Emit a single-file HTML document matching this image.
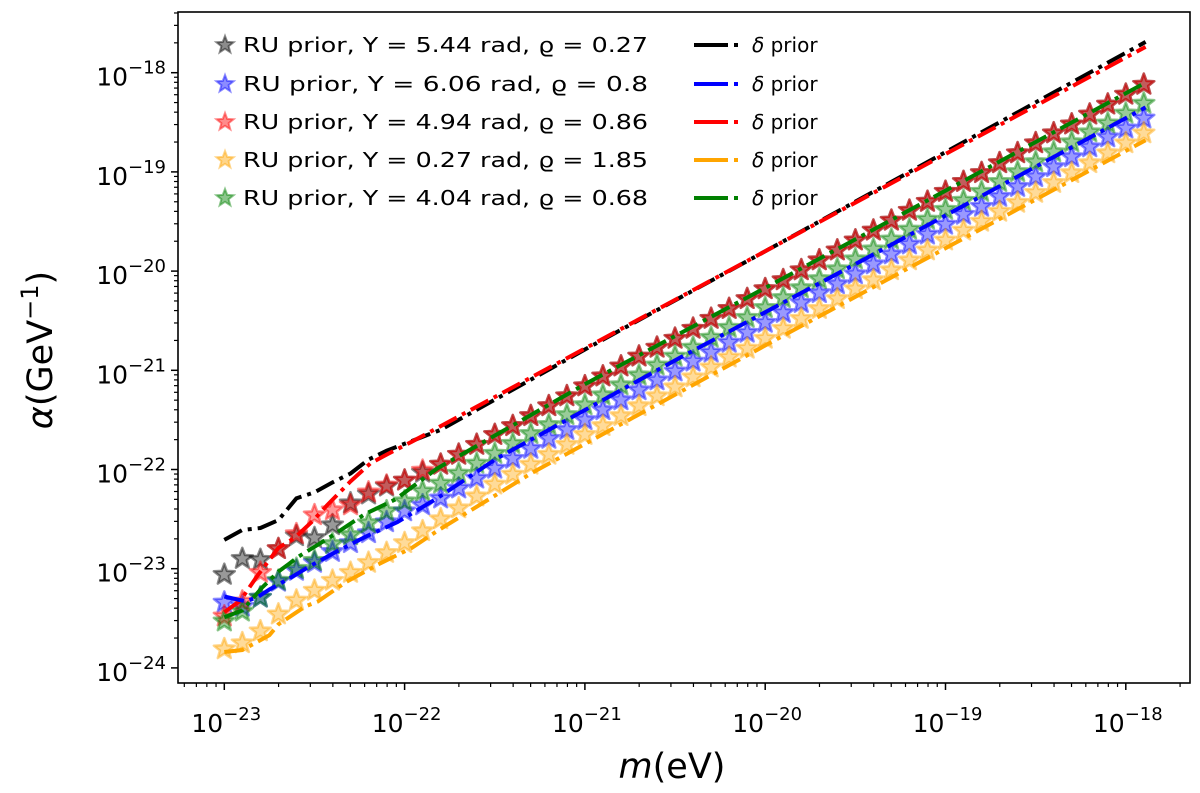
<!DOCTYPE html>
<html><head><meta charset="utf-8">
<style>
html,body{margin:0;padding:0;background:#fff;}
svg{display:block;font-family:"DejaVu Sans","Liberation Sans",sans-serif;}
</style></head>
<body>
<svg id="chart" width="1200" height="793" viewBox="0 0 1200 793" xmlns="http://www.w3.org/2000/svg">
<rect x="0" y="0" width="1200" height="793" fill="#fff"/>
<g id="stars"></g>
<g id="lines"></g>
<g id="axes"></g>
<g id="legend"></g>
<text x="672" y="778" font-size="35" text-anchor="middle"><tspan font-style="italic">m</tspan>(eV)</text>
<text transform="translate(52,350) rotate(-90)" font-size="35" text-anchor="middle"><tspan font-style="italic">α</tspan>(GeV<tspan font-size="24" dy="-14">−1</tspan><tspan dy="14">)</tspan></text>
</svg>
<script>
// log10 of mass grid (eV)
const mExp = [-23.0,-22.9,-22.8,-22.7,-22.6,-22.5,-22.4,-22.3,-22.2,-22.1,-22.0,-21.9,-21.8,-21.7,-21.6,-21.5,-21.4,-21.3,-21.2,-21.1,-21.0,-20.9,-20.8,-20.7,-20.6,-20.5,-20.4,-20.3,-20.2,-20.1,-20.0,-19.9,-19.8,-19.7,-19.6,-19.5,-19.4,-19.3,-19.2,-19.1,-19.0,-18.9,-18.8,-18.7,-18.6,-18.5,-18.4,-18.3,-18.2,-18.1,-18.0,-17.9];
// log10 alpha for star series
const starBlack = [-23.06,-22.90,-22.91,-22.80,-22.67,-22.69,-22.56,-22.34,-22.25,-22.17,-22.11,-22.03,-21.95,-21.85,-21.75,-21.65,-21.56,-21.46,-21.36,-21.26,-21.16,-21.06,-20.96,-20.86,-20.77,-20.68,-20.58,-20.48,-20.38,-20.28,-20.18,-20.09,-19.99,-19.89,-19.79,-19.69,-19.59,-19.49,-19.39,-19.30,-19.20,-19.10,-19.01,-18.91,-18.81,-18.71,-18.61,-18.52,-18.42,-18.32,-18.22,-18.12];
const starBlue = [-23.34,-23.38,-23.29,-23.13,-23.02,-22.94,-22.83,-22.74,-22.64,-22.53,-22.42,-22.36,-22.29,-22.19,-22.09,-21.99,-21.89,-21.79,-21.69,-21.60,-21.50,-21.40,-21.30,-21.20,-21.10,-21.01,-20.91,-20.82,-20.72,-20.62,-20.52,-20.42,-20.32,-20.22,-20.13,-20.03,-19.93,-19.83,-19.73,-19.63,-19.53,-19.43,-19.35,-19.25,-19.15,-19.05,-18.95,-18.85,-18.75,-18.65,-18.56,-18.46];
const starRed = [-23.48,-23.33,-23.04,-22.80,-22.65,-22.46,-22.41,-22.36,-22.23,-22.16,-22.11,-22.01,-21.95,-21.85,-21.75,-21.65,-21.56,-21.46,-21.36,-21.26,-21.16,-21.06,-20.96,-20.86,-20.77,-20.68,-20.58,-20.48,-20.38,-20.28,-20.18,-20.09,-19.99,-19.89,-19.79,-19.69,-19.59,-19.49,-19.39,-19.30,-19.20,-19.10,-19.01,-18.91,-18.81,-18.71,-18.61,-18.52,-18.42,-18.32,-18.22,-18.12];
const starOrange = [-23.81,-23.75,-23.63,-23.46,-23.32,-23.22,-23.12,-23.04,-22.94,-22.84,-22.74,-22.62,-22.50,-22.39,-22.27,-22.15,-22.05,-21.95,-21.85,-21.75,-21.65,-21.56,-21.46,-21.36,-21.26,-21.17,-21.07,-20.97,-20.87,-20.78,-20.68,-20.58,-20.48,-20.38,-20.28,-20.18,-20.09,-19.99,-19.89,-19.79,-19.69,-19.59,-19.50,-19.40,-19.31,-19.21,-19.11,-19.01,-18.91,-18.81,-18.71,-18.61];
const starGreen = [-23.53,-23.43,-23.29,-23.12,-23.00,-22.92,-22.75,-22.66,-22.54,-22.42,-22.32,-22.22,-22.14,-22.04,-21.94,-21.84,-21.74,-21.64,-21.55,-21.45,-21.35,-21.25,-21.15,-21.05,-20.95,-20.86,-20.77,-20.67,-20.57,-20.47,-20.37,-20.27,-20.17,-20.08,-19.98,-19.88,-19.78,-19.68,-19.58,-19.48,-19.38,-19.29,-19.20,-19.10,-19.00,-18.90,-18.80,-18.70,-18.60,-18.51,-18.41,-18.31];
// delta prior lines (log10 m, log10 alpha)
const lineBlackM = [-23.00,-22.90,-22.80,-22.70,-22.60,-22.50,-22.40,-22.30,-22.20,-22.10,-21.80,-20.99,-19.98,-18.97,-17.89];
const lineBlackA = [-22.71,-22.61,-22.59,-22.51,-22.29,-22.23,-22.13,-22.04,-21.90,-21.81,-21.60,-20.78,-19.78,-18.77,-17.69];
const lineRedM = [-23.00,-22.91,-22.82,-22.70,-22.61,-22.51,-22.43,-22.30,-22.19,-22.10,-21.96,-20.99,-19.98,-18.97,-17.89];
const lineRedA = [-23.44,-23.32,-23.08,-22.79,-22.69,-22.52,-22.36,-22.12,-21.94,-21.85,-21.72,-20.77,-19.78,-18.79,-17.74];
const lineGreenM = [-23.00,-22.90,-22.79,-22.70,-22.64,-22.59,-22.42,-22.22,-22.05,-21.82,-20.99,-19.98,-18.97,-17.89];
const lineGreenA = [-23.49,-23.42,-23.19,-23.03,-22.95,-22.88,-22.69,-22.45,-22.30,-21.99,-21.13,-20.15,-19.16,-18.10];
const lineBlueM = [-23.00,-22.88,-22.81,-22.75,-22.64,-22.53,-22.38,-22.22,-22.04,-21.82,-21.49,-20.48,-19.47,-17.89];
const lineBlueA = [-23.28,-23.33,-23.28,-23.21,-23.10,-22.98,-22.83,-22.68,-22.53,-22.29,-21.89,-20.88,-19.90,-18.35];
const lineOrangeM = [-23.00,-22.90,-22.85,-22.75,-22.70,-22.55,-22.48,-22.33,-22.15,-21.96,-21.82,-21.29,-19.98,-18.97,-17.89];
const lineOrangeA = [-23.84,-23.82,-23.77,-23.67,-23.56,-23.38,-23.33,-23.14,-22.96,-22.79,-22.62,-22.03,-20.73,-19.74,-18.68];
const xTicks = [-23,-22,-21,-20,-19,-18];
const yTicks = [-24,-23,-22,-21,-20,-19,-18];
const starLabels = ["RU prior, Y =  5.44 rad, ϱ = 0.27","RU prior, Y =  6.06 rad, ϱ = 0.8","RU prior, Y =  4.94 rad, ϱ = 0.86","RU prior, Y =  0.27 rad, ϱ = 1.85","RU prior, Y =  4.04 rad, ϱ = 0.68"];

const NS = "http://www.w3.org/2000/svg";
const PL = 178, PR = 1190, PT = 12, PB = 683;
function X(l){ return 224.3 + (l + 23) * 180.3; }
function Y(l){ return 72.7 + (-18 - l) * 99.2; }
function mk(tag, attrs, parent){ const e = document.createElementNS(NS, tag); for (const k in attrs) e.setAttribute(k, attrs[k]); parent.appendChild(e); return e; }
function starPts(cx, cy, R){ const r = R*0.42; let p = []; for (let k=0;k<10;k++){ const a = -Math.PI/2 + k*Math.PI/5; const rr = k%2 ? r : R; p.push((cx+rr*Math.cos(a)).toFixed(1)+","+(cy+rr*Math.sin(a)).toFixed(1)); } return p.join(" "); }

const colors = ["#000000","#0000ff","#ff0000","#ffa500","#008000"];
const starSeries = [starBlack, starBlue, starRed, starOrange, starGreen];
const starNames = ["black","blue","red","orange","green"];
const gS = document.getElementById("stars");
starSeries.forEach((s, si) => {
  const g = mk("g", {}, gS);
  
  
  s.forEach((v, i) => {
    const p = mk("polygon", {points: starPts(X(mExp[i]), Y(v), 11), fill: colors[si], "fill-opacity": 0.4, stroke: colors[si], "stroke-opacity": 0.45, "stroke-width": 2.5, "stroke-linejoin": "round"}, g);
    
    
  });
});

const lineSets = [[lineBlackM,lineBlackA],[lineBlueM,lineBlueA],[lineRedM,lineRedA],[lineOrangeM,lineOrangeA],[lineGreenM,lineGreenA]];
const gL = document.getElementById("lines");
const order = [0,2,4,1,3];
order.forEach(li => {
  const [ms, as] = lineSets[li];
  const d = ms.map((m, i) => (i ? "L" : "M") + X(m).toFixed(1) + "," + Y(as[i]).toFixed(1)).join(" ");
  const p = mk("path", {d: d, fill: "none", stroke: colors[li], "stroke-width": 4, "stroke-dasharray": "20,6,4,6"}, gL);
  
  
});

const gA = document.getElementById("axes");
const frame = mk("rect", {x: PL, y: PT, width: PR-PL, height: PB-PT, fill: "none", stroke: "#000", "stroke-width": 1.6}, gA);


for (let d = -24; d <= -17; d++) {
  for (let k = 2; k <= 9; k++) {
    const l = d + Math.log10(k);
    const x = X(l);
    if (x > PL && x < PR) mk("line", {x1: x, x2: x, y1: PB, y2: PB+4, stroke: "#000", "stroke-width": 1.2}, gA);
    const y = Y(l);
    if (y > PT && y < PB) mk("line", {x1: PL-4, x2: PL, y1: y, y2: y, stroke: "#000", "stroke-width": 1.2}, gA);
  }
}
xTicks.forEach(t => {
  const x = X(t);
  mk("line", {x1: x, x2: x, y1: PB, y2: PB+7, stroke: "#000", "stroke-width": 1.5}, gA);
  const tx = mk("text", {x: x+2, y: 732, "font-size": 25, "text-anchor": "middle"}, gA);
  
  
  tx.innerHTML = '10<tspan font-size="18" dy="-12">−' + (-t) + '</tspan>';
});
yTicks.forEach(t => {
  const y = Y(t);
  mk("line", {x1: PL-7, x2: PL, y1: y, y2: y, stroke: "#000", "stroke-width": 1.5}, gA);
  const tx = mk("text", {x: 166, y: y+13, "font-size": 25, "text-anchor": "end"}, gA);
  
  
  tx.innerHTML = '10<tspan font-size="18" dy="-12">−' + (-t) + '</tspan>';
});

const gG = document.getElementById("legend");
const rowsY = [45, 84, 122, 160, 198];
starLabels.forEach((lab, i) => {
  const y = rowsY[i];
  const e = mk("g", {}, gG);
  
  
  mk("polygon", {points: starPts(225, y, 9), fill: colors[i], "fill-opacity": 0.45, stroke: colors[i], "stroke-opacity": 0.45, "stroke-width": 2}, e);
  const t = mk("text", {x: 243, y: y+7, "font-size": 20, textLength: 405, lengthAdjust: "spacingAndGlyphs"}, e);
  t.textContent = lab;
  const e2 = mk("g", {}, gG);
  
  
  mk("line", {x1: 694, x2: 728, y1: y, y2: y, stroke: colors[i], "stroke-width": 4}, e2);
  mk("rect", {x: 734, y: y-2, width: 4, height: 4, fill: colors[i]}, e2);
  const t2 = mk("text", {x: 752, y: y+7, "font-size": 20}, e2);
  t2.innerHTML = '<tspan font-style="italic">δ</tspan> prior';
});
</script>
</body></html>
